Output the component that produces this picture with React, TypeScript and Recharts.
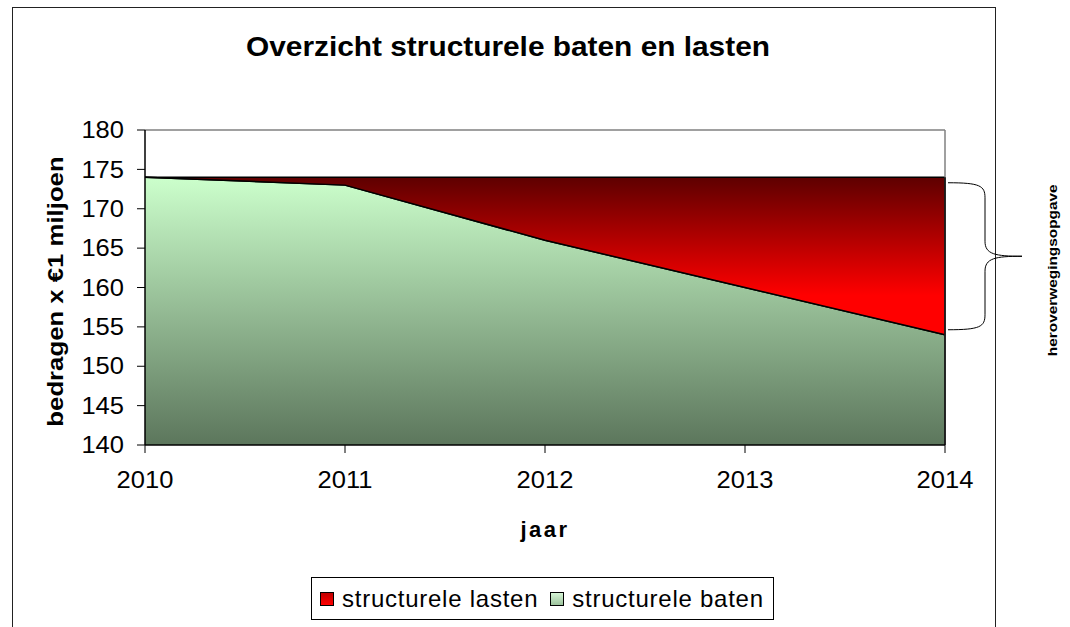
import React from 'react';
import { AreaChart, Area, XAxis, YAxis, ReferenceLine, Legend } from 'recharts';

const years = ['2010', '2011', '2012', '2013', '2014'];
const structureleBaten = [174, 173, 166, 160, 154];
const structureleLasten = [174, 174, 174, 174, 174];
const yTicks = [140, 145, 150, 155, 160, 165, 170, 175, 180];
const legendLabels = ['structurele lasten', 'structurele baten'];
const titleText = 'Overzicht structurele baten en lasten';
const yLabelText = 'bedragen x €1 miljoen';
const xLabelText = 'jaar';
const braceText = 'heroverwegingsopgave';

const data = years.map((jaar, i) => ({
  jaar,
  baten: structureleBaten[i],
  lasten: [structureleBaten[i], structureleLasten[i]],
}));

const FONT = '"Liberation Sans", Arial, sans-serif';
const STRETCH = 1.11;

const XTick = (p: any) => (
  <text
    x={0}
    y={0}
    dy="0.71em"
    transform={`translate(${p.x}, ${p.y}) scale(${STRETCH}, 1)`}
    textAnchor="middle"
    fontFamily={FONT}
    fontSize={23}
    fill="#000"
  >
    {p.payload.value}
  </text>
);

const YTick = (p: any) => (
  <text
    x={0}
    y={0}
    dy="0.355em"
    transform={`translate(${p.x}, ${p.y}) scale(${STRETCH}, 1)`}
    textAnchor="end"
    fontFamily={FONT}
    fontSize={23}
    fill="#000"
  >
    {p.payload.value}
  </text>
);

const Brace = (props: any) => {
  const { x1, y1, y2 } = props;
  const top = Math.min(y1, y2) + 5.5;
  const bot = Math.max(y1, y2) - 5;
  const mid = (top + bot) / 2;
  const xs = x1 + 3;
  const xv = x1 + 40;
  const xt = x1 + 77;
  const d = `M ${xs} ${top} C ${xv - 5} ${top} ${xv} ${top + 3} ${xv} ${top + 15} L ${xv} ${mid - 15} C ${xv} ${mid - 2} ${xv + 10} ${mid} ${xt} ${mid} C ${xv + 10} ${mid} ${xv} ${mid + 2} ${xv} ${mid + 15} L ${xv} ${bot - 15} C ${xv} ${bot - 3} ${xv - 5} ${bot} ${xs} ${bot}`;
  const tx = x1 + 107;
  const ty = mid + 14;
  return (
    <g>
      <path d={d} fill="none" stroke="#000" strokeWidth={1} />
      <text
        x={0}
        y={0}
        transform={`translate(${tx}, ${ty}) rotate(-90) scale(1.14, 1)`}
        textAnchor="middle"
        dominantBaseline="central"
        fontFamily={FONT}
        fontWeight="bold"
        fontSize={13.5}
        fill="#000"
      >
        {braceText}
      </text>
    </g>
  );
};

const LegendBox = () => (
  <div
    style={{
      border: '1px solid #000',
      height: 43,
      width: 463,
      display: 'flex',
      alignItems: 'center',
      fontFamily: FONT,
      fontSize: 24,
      letterSpacing: 0.75,
      color: '#000',
      background: '#fff',
      paddingLeft: 8,
      boxSizing: 'border-box',
      whiteSpace: 'nowrap',
    }}
  >
    <span style={{ display: 'inline-block', width: 12, height: 12, border: '1px solid #000', background: 'linear-gradient(#c00000, #ff0000)', marginRight: 8 }} />
    <span style={{ marginRight: 12 }}>{legendLabels[0]}</span>
    <span style={{ display: 'inline-block', width: 12, height: 12, border: '1px solid #000', background: 'linear-gradient(#d6f5d6, #9cc29c)', marginRight: 8 }} />
    <span>{legendLabels[1]}</span>
  </div>
);

export default function App() {
  return (
    <div style={{ position: 'absolute', left: 0, top: 0, width: 1070, height: 627, overflow: 'hidden', background: '#fff' }}>
      <div style={{ position: 'absolute', left: 12, top: 7, width: 982, height: 660, border: '1px solid #222' }} />
      <div
        style={{
          position: 'absolute',
          left: 0,
          width: 1016,
          top: 34,
          textAlign: 'center',
          fontFamily: FONT,
          fontWeight: 'bold',
          fontSize: 27,
          lineHeight: 1,
          color: '#000',
          whiteSpace: 'nowrap',
          transform: 'scaleX(1.105)',
          transformOrigin: '508px 0',
        }}
      >
        {titleText}
      </div>
      <div style={{ position: 'absolute', left: 0, top: 0 }}>
        <AreaChart width={1070} height={627} data={data} margin={{ top: 130, right: 125, bottom: 152, left: 0 }}>
          <defs>
            <linearGradient id="gBaten" x1="0" y1="0" x2="0" y2="1">
              <stop offset="0" stopColor="#ccffcc" />
              <stop offset="1" stopColor="#5c765c" />
            </linearGradient>
            <linearGradient id="gLasten" x1="0" y1="0" x2="0" y2="1">
              <stop offset="0" stopColor="#5e0000" />
              <stop offset="0.75" stopColor="#ff0000" />
              <stop offset="1" stopColor="#ff0000" />
            </linearGradient>
          </defs>
          <XAxis
            dataKey="jaar"
            height={30}
            tickSize={8}
            tickMargin={19}
            axisLine={{ stroke: '#000', strokeWidth: 1.5 }}
            tickLine={{ stroke: '#000' }}
            tick={<XTick />}
            interval={0}
            label={{
              content: (p: any) => {
                const vb = p.viewBox;
                return (
                  <text
                    x={vb.x + vb.width / 2}
                    y={vb.y + 92}
                    textAnchor="middle"
                    fontFamily={FONT}
                    fontWeight="bold"
                    fontSize={22}
                    letterSpacing={2.5}
                    fill="#000"
                  >
                    {xLabelText}
                  </text>
                );
              },
            }}
          />
          <YAxis
            domain={[140, 180]}
            ticks={yTicks}
            interval={0}
            width={145}
            tickSize={8}
            tickMargin={13}
            axisLine={{ stroke: '#000', strokeWidth: 1.5 }}
            tickLine={{ stroke: '#000' }}
            tick={<YTick />}
            label={{
              content: (p: any) => {
                const vb = p.viewBox;
                const cx = vb.x + 55;
                const cy = vb.y + vb.height / 2 + 4;
                return (
                  <text
                    x={0}
                    y={0}
                    transform={`translate(${cx}, ${cy}) rotate(-90) scale(1.17, 1)`}
                    textAnchor="middle"
                    dominantBaseline="central"
                    fontFamily={FONT}
                    fontWeight="bold"
                    fontSize={22}
                    fill="#000"
                  >
                    {yLabelText}
                  </text>
                );
              },
            }}
          />
          <ReferenceLine y={180} stroke="#808080" strokeWidth={1.5} ifOverflow="visible" />
          <ReferenceLine x="2014" stroke="#808080" strokeWidth={1.5} ifOverflow="visible" />
          <Area
            type="linear"
            dataKey="baten"
            stroke="#000"
            strokeWidth={1.5}
            fill="url(#gBaten)"
            fillOpacity={1}
            isAnimationActive={false}
            dot={false}
            activeDot={false}
          />
          <Area
            type="linear"
            dataKey="lasten"
            stroke="#000"
            strokeWidth={1.5}
            fill="url(#gLasten)"
            fillOpacity={1}
            isAnimationActive={false}
            dot={false}
            activeDot={false}
          />
          <ReferenceLine
            segment={[{ x: '2014', y: 140 }, { x: '2014', y: 174 }]}
            stroke="#000"
            strokeWidth={1.5}
            ifOverflow="visible"
          />
          <ReferenceLine
            segment={[{ x: '2014', y: 174 }, { x: '2014', y: 154 }]}
            stroke="none"
            ifOverflow="visible"
            shape={(p: any) => <Brace {...p} />}
          />
          <Legend
            layout="horizontal"
            verticalAlign="middle"
            align="center"
            wrapperStyle={{ left: 311, top: 577, width: 465, height: 45 }}
            content={() => <LegendBox />}
          />
        </AreaChart>
      </div>
    </div>
  );
}
